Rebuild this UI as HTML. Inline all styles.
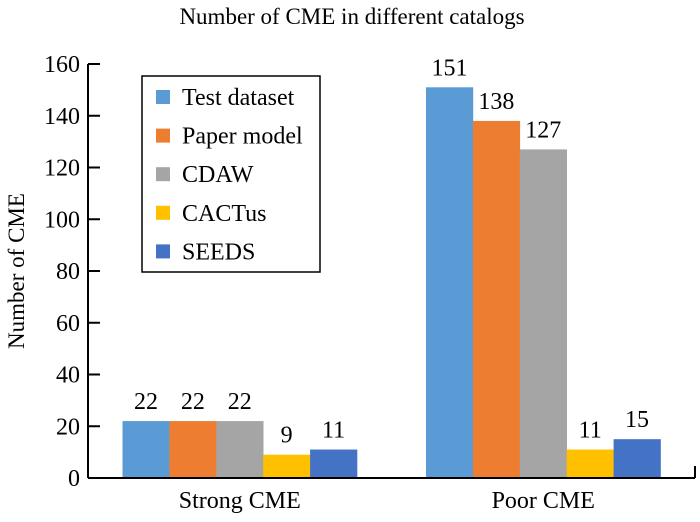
<!DOCTYPE html>
<html><head><meta charset="utf-8"><style>
body{margin:0;background:#fff}
svg, svg text{font-family:"Liberation Serif","Times New Roman",serif}
</style></head><body>
<svg id="chart" width="700" height="517" viewBox="0 0 700 517" font-family="Liberation Serif, serif">
<text x="352" y="24" font-size="23" text-anchor="middle" font-family="Liberation Serif, serif">Number of CME in different catalogs</text>
<text transform="translate(24,271) rotate(-90)" font-size="23" text-anchor="middle" font-family="Liberation Serif, serif">Number of CME</text>
<g id="bars"></g>
<g id="axes"></g>
<g id="legend">
<rect x="142" y="76" width="178" height="196" fill="#fff" stroke="#000" stroke-width="1.5"/>
</g>
</svg>
<script>
const categories=["Strong CME","Poor CME"];
const seriesNames=["Test dataset","Paper model","CDAW","CACTus","SEEDS"];
const testDataset=[22,151];
const paperModel=[22,138];
const cdaw=[22,127];
const cactus=[9,11];
const seeds=[11,15];
const yTicks=[0,20,40,60,80,100,120,140,160];
const series=[testDataset,paperModel,cdaw,cactus,seeds];
const colors=["#5B9BD5","#ED7D31","#A5A5A5","#FFC000","#4472C4"];
const NS="http://www.w3.org/2000/svg";
const FF="Liberation Serif, serif";
const x0=88,x1=695,y0=478,y1=64,ymax=160;
function y(v){return y0-(v/ymax)*(y0-y1);}
const band=(x1-x0)/categories.length;
function cx(i){return x0+band*(i+0.5);}
const bw=46.9;
function mk(t,a,p){const e=document.createElementNS(NS,t);for(const k in a)e.setAttribute(k,a[k]);if(t==='text')e.setAttribute('font-family',FF);p.appendChild(e);return e;}
const bars=document.getElementById('bars'),axes=document.getElementById('axes'),legend=document.getElementById('legend');
series.forEach((s,si)=>{s.forEach((v,ci)=>{
 const bx=cx(ci)-bw*series.length/2+si*bw;
 const r=mk('rect',{x:bx,y:y(v),width:bw+0.3,height:y0-y(v),fill:colors[si]},bars);
 
 
 const t=mk('text',{x:bx+bw/2,y:y(v)-12,'font-size':24,'text-anchor':'middle'},bars);
 t.textContent=v;
 
 
});});
mk('line',{x1:x0,y1:y1,x2:x0,y2:y0,stroke:'#000','stroke-width':2},axes);
mk('line',{x1:x0,y1:y0,x2:x1,y2:y0,stroke:'#000','stroke-width':2},axes);
mk('line',{x1:x1,y1:y0,x2:x1,y2:y0-12,stroke:'#000','stroke-width':2},axes);
yTicks.forEach(v=>{
 mk('line',{x1:x0,y1:y(v),x2:x0+12,y2:y(v),stroke:'#000','stroke-width':2},axes);
 const t=mk('text',{x:x0-8,y:y(v)+8,'font-size':24,'text-anchor':'end'},axes);
 t.textContent=v;
 
 
});
categories.forEach((c,i)=>{
 const t=mk('text',{x:cx(i),y:508,'font-size':24,'text-anchor':'middle'},axes);
 t.textContent=c;
 
 
});
seriesNames.forEach((n,i)=>{
 const g=mk('g',{},legend);
 
 
 const ly=97+i*38.6;
 mk('rect',{x:156,y:ly-7,width:14,height:14,fill:colors[i]},g);
 const t=mk('text',{x:182,y:ly+8,'font-size':24},g);
 t.textContent=n;
});
</script>
</body></html>
